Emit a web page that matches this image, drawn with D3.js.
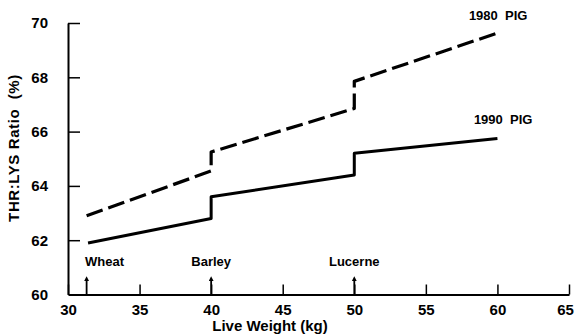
<!DOCTYPE html>
<html>
<head>
<meta charset="utf-8">
<script src="https://cdn.jsdelivr.net/npm/d3@7"></script>
<style>
  body { margin: 0; background: #fff; }
  svg text { font-family: "Liberation Sans", Arial, sans-serif; font-weight: bold; fill: #000; }
</style>
</head>
<body>
<svg id="chart" width="574" height="336"></svg>
<script>
// live weight (kg) and THR:LYS ratio (%)
const pig1980X = [31.3, 40, 40, 50, 50, 60];
const pig1980Y = [62.9, 64.55, 65.25, 66.85, 67.85, 69.63];
const pig1990X = [31.4, 40, 40, 50, 50, 60];
const pig1990Y = [61.9, 62.8, 63.6, 64.4, 65.2, 65.75];

const feedNames = ['Wheat', 'Barley', 'Lucerne'];
const feedWeights = [31.3, 40, 50];

const xTicks = [30, 35, 40, 45, 50, 55, 60, 65];
const yTicks = [60, 62, 64, 66, 68, 70];

const svg = d3.select('#chart');

const x = d3.scaleLinear().domain([30, 65]).range([68, 569]);
const y = d3.scaleLinear().domain([60, 70]).range([294.5, 23]);

// axes, ticks pointing inward
const gx = svg.append('g').attr('transform', `translate(0,${y(60)})`)
  .call(d3.axisBottom(x).tickValues(xTicks).tickSizeInner(-10).tickSizeOuter(0).tickPadding(10));
gx.select('.domain').attr('stroke-width', 2);
gx.selectAll('.tick line').attr('stroke-width', 1.5);
gx.selectAll('.tick text').attr('font-size', 15);
gx.selectAll('.tick').filter(d => d === 65).select('text').attr('dx', -4);

const gy = svg.append('g').attr('transform', `translate(${x(30)},0)`)
  .call(d3.axisLeft(y).tickValues(yTicks).tickSizeInner(-12).tickSizeOuter(0).tickPadding(20));
gy.select('.domain').attr('stroke-width', 2);
gy.selectAll('.tick line').attr('stroke-width', 1.5);
gy.selectAll('.tick text').attr('font-size', 15);
gy.selectAll('.tick').filter(d => d === 60).select('line').remove();

// series
const line = d3.line().x(d => x(d[0])).y(d => y(d[1]));
const d1980 = d3.zip(pig1980X, pig1980Y);
const d1990 = d3.zip(pig1990X, pig1990Y);

svg.append('path').datum(d1980)
  .attr('d', line).attr('fill', 'none').attr('stroke', '#000')
  .attr('stroke-width', 3.2).attr('stroke-dasharray', '17,6').attr('stroke-linejoin', 'round');

svg.append('path').datum(d1990)
  .attr('d', line).attr('fill', 'none').attr('stroke', '#000')
  .attr('stroke-width', 3).attr('stroke-linejoin', 'round');

svg.append('text').attr('x', x(60) + 30).attr('y', y(69.63) - 13)
  .attr('text-anchor', 'end').attr('font-size', 13)
  .attr('xml:space', 'preserve').text('1980  PIG');
svg.append('text').attr('x', x(60) + 35).attr('y', y(65.75) - 14)
  .attr('text-anchor', 'end').attr('font-size', 13)
  .attr('xml:space', 'preserve').text('1990  PIG');

// feed change arrows
svg.append('defs').append('marker')
  .attr('id', 'arr').attr('viewBox', '0 0 6 6').attr('refX', 2).attr('refY', 3)
  .attr('markerWidth', 5).attr('markerHeight', 5).attr('markerUnits', 'userSpaceOnUse')
  .attr('orient', 'auto')
  .append('path').attr('d', 'M0,0 L6,3 L0,6 Z').attr('fill', '#000');

const feeds = svg.append('g');
feedNames.forEach((name, i) => {
  const fx = x(feedWeights[i]);
  feeds.append('line').attr('x1', fx).attr('x2', fx)
    .attr('y1', y(60)).attr('y2', y(60) - 15)
    .attr('stroke', '#000').attr('stroke-width', 1.8).attr('marker-end', 'url(#arr)');
  feeds.append('text').attr('x', fx + (i === 0 ? 18 : 0)).attr('y', y(60) - 29)
    .attr('text-anchor', 'middle').attr('font-size', 13).text(name);
});

// axis titles
svg.append('text').attr('x', x(30) + 202).attr('y', 331)
  .attr('text-anchor', 'middle').attr('font-size', 15).text('Live Weight (kg)');
svg.append('text').attr('transform', `translate(19,148) rotate(-90)`)
  .attr('text-anchor', 'middle').attr('font-size', 15).attr('letter-spacing', 0.6)
  .attr('xml:space', 'preserve').text('THR:LYS Ratio  (%)');
</script>
</body>
</html>
